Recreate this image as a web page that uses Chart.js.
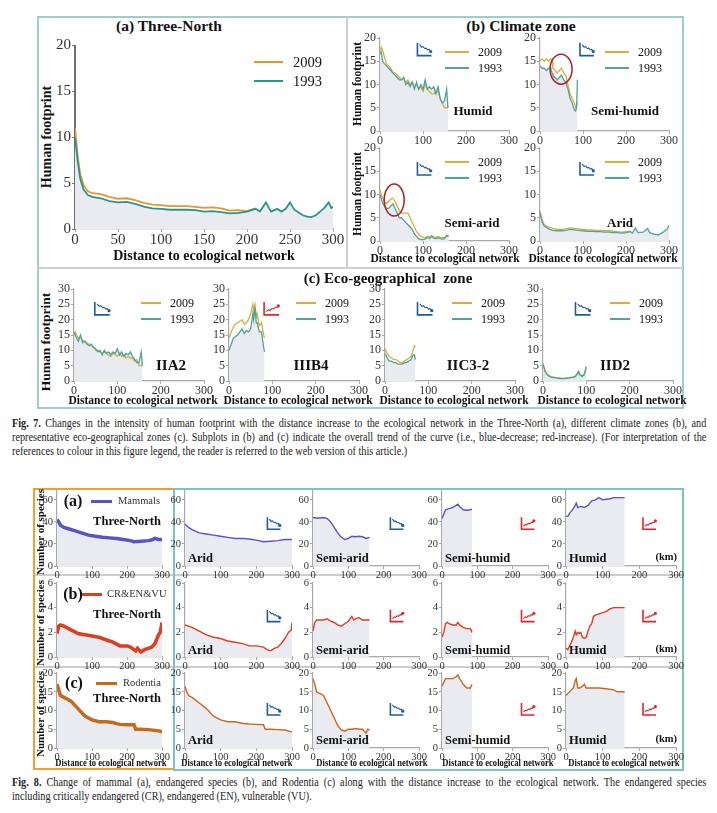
<!DOCTYPE html>
<html>
<head>
<meta charset="utf-8">
<script src="https://cdn.jsdelivr.net/npm/chart.js@4.4.0/dist/chart.umd.min.js"></script>
<style>
  body { margin: 0; background: #fff; width: 717px; height: 813px; position: relative; overflow: hidden; }
  canvas { position: absolute; }
  .cap { position: absolute; left: 12px; width: 789px; font-family: 'Liberation Serif', serif; font-size: 11.6px; line-height: 1; color: #222; white-space: nowrap; transform: scaleX(0.88); transform-origin: 0 0; }
  .just { text-align: justify; text-align-last: justify; }
</style>
</head>
<body>
<script>
// ---------- Fig. 7 data: human footprint vs distance (km) ----------
const d_tn93 = [0, 3, 6, 10, 15, 20, 30, 40, 50, 60, 70, 80, 90, 100, 110, 120, 130, 140, 150, 160, 170, 180, 190, 200, 210, 215, 222, 228, 235, 240, 245, 250, 255, 260, 265, 270, 275, 280, 285, 290, 295, 298, 300];
const hf93_tn = [10.0, 7.5, 5.5, 4.3, 3.7, 3.5, 3.35, 3.05, 2.9, 2.95, 2.75, 2.45, 2.25, 2.2, 2.1, 2.1, 2.1, 2.05, 1.9, 1.95, 1.85, 1.7, 1.75, 1.9, 2.2, 1.9, 2.9, 1.9, 2.2, 1.9, 2.2, 2.9, 2.1, 1.8, 1.5, 1.35, 1.3, 1.5, 1.9, 2.3, 2.9, 2.3, 2.4];
const d_tn09 = [0, 3, 6, 10, 15, 20, 30, 40, 50, 60, 70, 80, 90, 100, 110, 120, 130, 140, 150, 160, 170, 180, 190, 200, 210];
const hf09_tn = [11.0, 8.0, 6.0, 4.8, 4.1, 3.9, 3.8, 3.5, 3.3, 3.35, 3.15, 2.85, 2.65, 2.6, 2.5, 2.5, 2.5, 2.4, 2.3, 2.35, 2.25, 2.0, 2.05, 1.95, 2.25];

const d_hum = [0, 3, 6, 10, 15, 20, 25, 30, 35, 40, 45, 50, 55, 60, 65, 70, 75, 80, 85, 90, 95, 100, 105, 110, 115, 120, 125, 130, 135, 140, 145, 150, 155, 158];
const hf09_hum = [17, 18, 17.5, 16, 14.5, 14, 13.5, 12.5, 12.5, 12, 11.5, 11, 11.5, 10.5, 11, 10, 10.5, 9.5, 10, 9, 9.5, 8.5, 10, 9, 8.5, 8, 8, 8.5, 8.5, 7, 6, 5, 5, 5];
const hf93_hum = [16.5, 17, 15, 14.5, 14, 13.5, 13, 12.5, 12, 11.5, 11, 11, 11.5, 10, 10.5, 9.5, 10.5, 9, 10.5, 9, 10, 9, 11, 9, 9.5, 9, 9.5, 8, 9.5, 7, 6, 6.5, 9, 5];

const d_shum = [0, 5, 10, 15, 20, 25, 28, 30, 35, 40, 45, 50, 55, 60, 65, 70, 75, 80, 83, 85, 87];
const hf09_shum = [15, 15.5, 15, 15.5, 15, 15.5, 15, 13.5, 13, 12.5, 13, 13.5, 12.5, 12, 10, 8, 7, 6, 5, 5.5, 6];
const hf93_shum = [14, 13.5, 13.5, 13, 13.5, 13.5, 12.5, 12, 11.5, 11, 11.5, 12, 11, 10.5, 9, 7, 6, 4.5, 4.3, 5, 11];

const d_sarid = [0, 5, 10, 15, 20, 25, 30, 35, 40, 45, 50, 55, 60, 65, 70, 75, 80, 85, 90, 95, 100, 105, 110, 115, 120, 125, 130, 135, 140, 145, 150, 155, 160];
const hf09_sarid = [11, 9.5, 8.5, 8, 8.5, 9, 9.2, 8.5, 7.5, 6.5, 6, 6, 6, 6, 5, 4, 3, 2, 1.5, 1, 0.8, 0.7, 1, 0.8, 1.2, 0.9, 0.8, 1, 0.8, 0.7, 0.8, 1, 1];
const hf93_sarid = [10, 8.5, 7.5, 7, 7, 7.5, 8, 7, 6, 5, 5, 4.5, 4, 3.5, 3, 2.5, 1.5, 1, 0.5, 0.3, 0.3, 0.4, 0.8, 0.5, 1, 0.6, 0.5, 0.7, 0.5, 0.4, 0.5, 1.2, 1];

const d_arid09 = [0, 5, 10, 20, 30, 40, 50, 60, 70, 80, 90, 100, 110, 120, 130, 140, 150, 160, 170, 180, 190, 200, 210];
const hf09_arid = [6.5, 4.5, 3.5, 3, 2.7, 2.5, 2.5, 2.6, 2.8, 2.7, 2.6, 2.5, 2.4, 2.4, 2.3, 2.3, 2.2, 2.2, 2.1, 2.0, 1.9, 2.0, 2.1];
const d_arid93 = [0, 5, 10, 20, 30, 40, 50, 60, 70, 80, 90, 100, 110, 120, 130, 140, 150, 160, 170, 180, 190, 200, 210, 215, 222, 228, 240, 250, 255, 265, 275, 285, 295, 300];
const hf93_arid = [6, 4, 3.2, 2.6, 2.3, 2.2, 2.2, 2.3, 2.5, 2.4, 2.3, 2.2, 2.1, 2.1, 2.0, 2.0, 1.9, 1.9, 1.8, 1.8, 1.7, 1.8, 2.0, 1.7, 2.8, 1.8, 1.9, 2.7, 1.8, 1.5, 1.3, 1.8, 2.5, 3.3];

const d_iia2 = [0, 3, 6, 10, 15, 20, 25, 30, 35, 40, 45, 50, 55, 60, 65, 70, 75, 80, 85, 90, 95, 100, 105, 110, 115, 120, 125, 130, 135, 140, 145, 150, 155, 158];
const hf09_iia2 = [15, 16, 15, 14, 14.5, 13, 13, 12.5, 12, 11.5, 11, 10, 10, 9.5, 9, 9.5, 9, 8.5, 8, 9, 8.5, 8, 9, 8, 8.5, 7.5, 8, 7.5, 7.5, 6.5, 7, 5, 5, 5];
const hf93_iia2 = [16, 15, 14, 13, 15, 12.5, 13, 12, 11.5, 12, 11, 10.5, 9.5, 10, 8.5, 10, 9, 9.5, 8.5, 9.5, 9, 10.5, 8.5, 9.5, 8, 9, 8.5, 9.5, 8, 7, 6, 6, 9.5, 5];

const d_iiib4 = [0, 5, 10, 15, 20, 25, 30, 35, 40, 45, 50, 55, 57, 60, 63, 65, 70, 75, 80, 82];
const hf09_iiib4 = [14, 16, 17.5, 18.5, 19, 19.5, 20, 18.5, 19, 20, 22, 25, 23, 25, 21, 22, 18, 19, 15, 14];
const hf93_iiib4 = [10, 12, 14, 14.5, 15, 16, 17, 15.5, 16.5, 16, 17, 22, 20, 24, 19, 19, 16, 16, 11, 9.5];

const d_iic32 = [0, 5, 10, 15, 20, 25, 30, 35, 40, 45, 50, 55, 60, 65, 68, 70];
const hf09_iic32 = [10.5, 9, 8, 7.5, 7, 7, 6.5, 6, 6, 6.5, 7, 7.5, 8, 10, 11.5, 11];
const hf93_iic32 = [9, 7.5, 6.5, 6.5, 6, 6, 5.5, 5.5, 5.5, 6, 6, 6.5, 7, 8.5, 8.5, 7];

const d_iid2 = [0, 5, 10, 15, 20, 30, 40, 50, 60, 70, 75, 80, 82, 85, 90, 95, 100];
const hf09_iid2 = [5.8, 3.2, 2.2, 1.7, 1.4, 1.1, 0.9, 0.9, 1.1, 1.3, 1.7, 2.7, 3.2, 2.2, 1.7, 2.2, 4.8];
const hf93_iid2 = [5.5, 3, 2, 1.5, 1.2, 1, 0.8, 0.8, 1, 1.2, 1.5, 2.5, 3, 2, 1.5, 2, 4.5];

// ---------- Fig. 8 data: number of species vs distance (km) ----------
const d_mam_tn = [0, 5, 10, 20, 30, 50, 70, 90, 110, 130, 150, 170, 190, 210, 220, 240, 260, 270, 280, 290, 300];
const mam_tn = [42, 40, 37, 35, 34, 32, 30, 28, 27, 26, 25.5, 25, 24, 23, 22, 22.5, 23, 23.5, 25, 24, 24];
const d_mam_arid = [0, 10, 20, 40, 60, 80, 100, 120, 140, 160, 180, 200, 220, 240, 260, 280, 300];
const mam_arid = [38, 35, 33, 30, 29, 28, 27, 26, 25, 25, 24.5, 23.5, 22, 22.5, 23, 24, 24];
const d_mam_sarid = [0, 10, 20, 30, 40, 50, 60, 70, 80, 90, 100, 110, 120, 130, 140, 150, 160];
const mam_sarid = [44, 43.5, 43.5, 44, 43, 40, 35, 30, 26, 24, 25, 27, 26.5, 27, 26.5, 25, 26];
const d_mam_shum = [0, 5, 10, 20, 30, 40, 45, 50, 60, 70, 80, 85];
const mam_shum = [43, 47, 51, 52, 53, 55, 56, 54, 51, 50.5, 51, 51.5];
const d_mam_hum = [0, 5, 10, 15, 20, 25, 28, 32, 40, 50, 60, 70, 80, 90, 100, 110, 120, 130, 140, 150, 160];
const mam_hum = [45, 45, 48, 50, 52, 55, 57, 53, 54, 53, 55, 59, 60, 62, 60, 60.5, 61, 62, 62, 62, 62];

const d_cr_tn = [0, 5, 10, 20, 40, 60, 80, 100, 120, 140, 160, 180, 200, 210, 220, 225, 230, 240, 250, 260, 270, 280, 290, 295, 300];
const cr_tn = [1.9, 2.5, 2.6, 2.5, 2.2, 1.9, 1.8, 1.7, 1.6, 1.4, 1.2, 0.9, 0.9, 0.8, 0.6, 0.5, 0.7, 0.4, 0.6, 0.7, 0.8, 1.1, 1.8, 2.0, 2.8];
const d_cr_arid = [0, 20, 40, 60, 80, 100, 120, 140, 160, 180, 200, 220, 230, 240, 250, 260, 270, 280, 290, 298, 300];
const cr_arid = [2.6, 2.4, 2.1, 1.8, 1.6, 1.5, 1.3, 1.2, 1.1, 0.9, 0.9, 0.8, 0.6, 0.5, 0.7, 0.8, 1.1, 1.5, 2.0, 2.2, 2.8];
const d_cr_sarid = [0, 5, 10, 20, 30, 40, 50, 60, 70, 80, 90, 100, 110, 115, 120, 130, 140, 150, 160];
const cr_sarid = [2.1, 2.8, 3.0, 3.0, 3.0, 3.1, 2.9, 2.8, 2.6, 2.5, 2.7, 2.9, 3.3, 3.0, 3.1, 3.2, 3.0, 3.0, 3.0];
const d_cr_shum = [0, 5, 10, 15, 20, 30, 40, 45, 50, 60, 70, 80, 85];
const cr_shum = [1.6, 2.0, 2.7, 2.8, 2.7, 2.6, 2.6, 2.8, 2.6, 2.4, 2.3, 2.3, 2.0];
const d_cr_hum = [0, 5, 10, 15, 20, 25, 28, 32, 36, 40, 45, 50, 55, 60, 65, 70, 75, 80, 90, 100, 110, 120, 130, 140, 160];
const cr_hum = [0.7, 0.6, 0.9, 1.2, 1.6, 2.1, 1.8, 2.0, 1.9, 2.0, 1.6, 1.5, 1.6, 2.1, 2.5, 2.7, 3.3, 3.4, 3.5, 3.6, 3.7, 3.9, 4.0, 4.0, 4.0];

const d_rod_tn = [0, 5, 10, 20, 30, 40, 50, 60, 70, 80, 90, 100, 120, 140, 160, 170, 180, 200, 220, 225, 240, 260, 280, 295, 300];
const rod_tn = [17, 15.5, 14, 13.5, 13, 12.5, 11.5, 10.5, 9.5, 8.5, 8, 7.5, 7, 7, 6.8, 6.5, 6.3, 6.2, 6.2, 5, 5, 4.9, 4.7, 4.5, 4.2];
const d_rod_arid = [0, 5, 10, 20, 40, 60, 80, 100, 120, 140, 160, 180, 200, 220, 225, 240, 260, 280, 300];
const rod_arid = [16.5, 15, 14, 13.5, 12, 10.5, 8.5, 7.5, 7, 7, 6.6, 6.4, 6.3, 6.2, 5, 5, 4.9, 4.8, 4.3];
const d_rod_sarid = [0, 5, 10, 20, 30, 40, 50, 60, 70, 80, 90, 100, 110, 120, 130, 140, 150, 155, 160];
const rod_sarid = [18.5, 17, 15, 14.5, 14, 12, 10, 8, 6, 4.8, 4.5, 5, 5, 5.2, 5, 5, 4, 5, 4.8];
const d_rod_shum = [0, 5, 10, 20, 30, 40, 45, 50, 60, 70, 80, 85];
const rod_shum = [16.5, 17.5, 18.5, 18.5, 18.5, 19, 19.5, 18.5, 17, 16, 16, 17];
const d_rod_hum = [0, 5, 10, 15, 20, 25, 28, 32, 38, 45, 50, 55, 70, 90, 110, 130, 140, 160];
const rod_hum = [14, 14.5, 15, 15.5, 16, 18, 18.5, 16, 16, 16.5, 17, 16, 16, 16, 15.8, 15.5, 15, 15];

const years = ['2009', '1993'];
const zones7 = ['Humid', 'Semi-humid', 'Semi-arid', 'Arid'];
const zonesEco = ['IIA2', 'IIIB4', 'IIC3-2', 'IID2'];
const zones8 = ['Arid', 'Semi-arid', 'Semi-humid', 'Humid'];
const groups8 = ['Mammals', 'CR&EN&VU', 'Rodentia'];

// ---------- helpers ----------
const SERIF = "'Liberation Serif', 'Times New Roman', serif";
const FILL = '#E9EBF0';
const C09a = '#E8952B', C93a = '#2B958A';
const C09 = '#D6AD3E', C93 = '#4FA39C';
const C_MAM = '#5A52C6', C_CR = '#DC3F20', C_ROD = '#C46A1E';

function addText(str, x, y, size, opt = {}) {
  const el = document.createElement('div');
  el.textContent = str;
  const a = opt.anchor || 'c';
  const tx = a === 'l' ? '0' : a === 'r' ? '-100%' : '-50%';
  const origin = a === 'l' ? 'left center' : a === 'r' ? 'right center' : 'center';
  el.style.cssText = `position:absolute;left:${x}px;top:${y}px;white-space:pre;line-height:1;` +
    `font-family:${SERIF};font-size:${size}px;font-weight:${opt.bold ? 'bold' : 'normal'};color:${opt.color || '#111'};` +
    `transform-origin:${origin};` +
    `transform:translate(${tx},-50%)${opt.rot ? ' rotate(-90deg)' : ''}${opt.sx ? ` scaleX(${opt.sx})` : ''};`;
  document.body.appendChild(el);
}

function addRect(x, y, w, h, css) {
  const el = document.createElement('div');
  el.style.cssText = `position:absolute;left:${x}px;top:${y}px;width:${w}px;height:${h}px;box-sizing:border-box;${css}`;
  document.body.appendChild(el);
}

function legLine(x1, x2, y, color, w) {
  addRect(x1, y - w / 2, x2 - x1, w, `background:${color}`);
}

function drawIcon(ctx, x, y, up, w, h) {
  const col = up ? '#E0262C' : '#1F5C9A';
  ctx.save();
  ctx.strokeStyle = col; ctx.fillStyle = col; ctx.lineWidth = 1.6;
  ctx.beginPath(); ctx.moveTo(x, y); ctx.lineTo(x, y + h); ctx.lineTo(x + w, y + h); ctx.stroke();
  const pts = up
    ? [[0.15, 0.75], [0.3, 0.6], [0.4, 0.66], [0.52, 0.5], [0.62, 0.56], [0.74, 0.42], [0.84, 0.45], [0.95, 0.3]]
    : [[0.15, 0.15], [0.3, 0.35], [0.4, 0.3], [0.52, 0.45], [0.62, 0.42], [0.74, 0.55], [0.84, 0.52], [0.95, 0.68]];
  ctx.lineWidth = 1.1;
  ctx.beginPath();
  pts.forEach(([px, py], i) => i ? ctx.lineTo(x + px * w, y + py * h) : ctx.moveTo(x + px * w, y + py * h));
  ctx.stroke();
  const last = pts[pts.length - 1];
  ctx.beginPath(); ctx.arc(x + last[0] * w, y + last[1] * h, 1.6, 0, Math.PI * 2); ctx.fill();
  ctx.restore();
}

const decor = {
  id: 'decor',
  afterDatasetsDraw(chart, args, o) {
    const { ctx, chartArea: a, scales } = chart;
    if (o.icon) drawIcon(ctx, a.left + o.icon.fx * a.width, a.top + o.icon.fy * a.height, o.icon.up, o.icon.w || 14, o.icon.h || 12);
    if (o.ring) {
      ctx.save();
      ctx.strokeStyle = '#B31E24'; ctx.lineWidth = 1.5;
      ctx.beginPath();
      ctx.ellipse(scales.x.getPixelForValue(o.ring.x), scales.y.getPixelForValue(o.ring.y), o.ring.rx, o.ring.ry, 0, 0, Math.PI * 2);
      ctx.stroke();
      ctx.restore();
    }
  }
};

function plot(p) {
  const pt = 8, pr = 14;
  const w = p.yW + (p.x1 - p.x0) + pr;
  const h = pt + (p.yBot - p.yTop) + p.xH;
  const cv = document.createElement('canvas');
  cv.width = w; cv.height = h;
  cv.style.left = (p.x0 - p.yW) + 'px';
  cv.style.top = (p.yTop - pt) + 'px';
  cv.style.width = w + 'px'; cv.style.height = h + 'px';
  document.body.appendChild(cv);

  const datasets = p.series.map(s => ({
    data: s.d.map((d, i) => ({ x: d, y: s.v[i] })),
    borderColor: s.color,
    borderWidth: s.w || 1.3,
    pointRadius: 0,
    tension: 0,
    fill: s.fill ? 'origin' : false,
    backgroundColor: p.fillColor || FILL
  }));
  const font = { family: SERIF, size: p.fs, lineHeight: 1 };
  const axisCol = p.axisCol || '#A8A8A8';

  new Chart(cv, {
    type: 'line',
    data: { datasets },
    options: {
      responsive: false,
      animation: false,
      events: [],
      layout: { padding: { top: pt, right: pr, left: 0, bottom: 0 } },
      plugins: {
        legend: { display: false },
        tooltip: { enabled: false },
        filler: { drawTime: 'beforeDatasetsDraw' },
        decor: { icon: p.icon, ring: p.ring }
      },
      scales: {
        x: {
          type: 'linear', min: 0, max: 300,
          ticks: { stepSize: p.xStep || 100, font, color: '#333', padding: 1, maxRotation: 0, autoSkip: false },
          grid: { drawOnChartArea: false, tickLength: 3, color: axisCol },
          border: { color: axisCol, width: 1.2 },
          afterFit: s => { s.height = p.xH; }
        },
        y: {
          min: 0, max: p.yMax,
          ticks: { stepSize: p.yStep, font, color: '#333', padding: 1 },
          grid: { drawOnChartArea: false, tickLength: 3, color: p.yAxisCol || axisCol },
          border: { color: p.yAxisCol || axisCol, width: p.yAxisW || 1.2 },
          afterBuildTicks: s => { if (p.yTicks) s.ticks = p.yTicks.map(v => ({ value: v })); },
          afterFit: s => { s.width = p.yW; }
        }
      }
    },
    plugins: [decor]
  });
}

// ================= Fig. 7 =================
addRect(37, 16, 647, 393, 'border:2px solid #9DCFC8');
addRect(346, 17, 2, 251, 'background:#CFCFCF');
addRect(38, 267, 645, 2, 'background:#CFCFCF');

// (a) Three-North
plot({ x0: 75, x1: 333, yTop: 45, yBot: 229, yMax: 20, yStep: 5, xStep: 50, fs: 15, yW: 21, xH: 20,
  yAxisCol: '#707070', yAxisW: 2,
  series: [
    { d: d_tn93, v: hf93_tn, color: C93a, w: 1.8, fill: true },
    { d: d_tn09, v: hf09_tn, color: C09a, w: 1.8 }
  ] });
addText('(a) Three-North', 169, 26, 15.5, { bold: true });
addText('Human footprint', 47, 137, 14, { bold: true, rot: true });
addText('Distance to ecological network', 204, 256, 14, { bold: true });
legLine(254, 283, 62, C09a, 2); addText(years[0], 293, 62, 14.5, { anchor: 'l' });
legLine(254, 283, 81, C93a, 2); addText(years[1], 293, 81, 14.5, { anchor: 'l' });

// (b) Climate zone
addText('(b) Climate zone', 521, 26, 15.5, { bold: true });
const climate = [
  { x0: 380, x1: 509, yTop: 38, yBot: 131, s93: [d_hum, hf93_hum], s09: [d_hum, hf09_hum], lab: [473, 110], fx: 0.29, fy: 0.05 },
  { x0: 540, x1: 669, yTop: 38, yBot: 131, s93: [d_shum, hf93_shum], s09: [d_shum, hf09_shum], lab: [625, 110], fx: 0.31, fy: 0.05,
    ring: { x: 49, y: 13.3, rx: 11, ry: 15 } },
  { x0: 380, x1: 509, yTop: 148, yBot: 241, s93: [d_sarid, hf93_sarid], s09: [d_sarid, hf09_sarid], lab: [472, 222], fx: 0.29, fy: 0.15,
    ring: { x: 33, y: 8.8, rx: 10, ry: 16 } },
  { x0: 540, x1: 669, yTop: 148, yBot: 241, s93: [d_arid93, hf93_arid], s09: [d_arid09, hf09_arid], lab: [620, 222], fx: 0.31, fy: 0.15 }
];
climate.forEach((c, i) => {
  plot({ x0: c.x0, x1: c.x1, yTop: c.yTop, yBot: c.yBot, yMax: 20, yStep: 5, fs: 12, yW: 18, xH: 16,
    icon: { fx: c.fx, fy: c.fy, up: false, w: 14, h: 13 }, ring: c.ring,
    series: [
      { d: c.s93[0], v: c.s93[1], color: C93, fill: true },
      { d: c.s09[0], v: c.s09[1], color: C09 }
    ] });
  addText(zones7[i], c.lab[0], c.lab[1], 13, { bold: true });
  const ly = c.yTop + 14;
  legLine(c.x0 + 65, c.x0 + 89, ly, C09, 1.6); addText(years[0], c.x0 + 98, ly, 12, { anchor: 'l' });
  legLine(c.x0 + 65, c.x0 + 89, ly + 16, C93, 1.6); addText(years[1], c.x0 + 98, ly + 16, 12, { anchor: 'l' });
});
addText('Human footprint', 358, 84, 11.5, { bold: true, rot: true });
addText('Human footprint', 358, 194, 11.5, { bold: true, rot: true });
addText('Distance to ecological network', 445, 259, 11.5, { bold: true });
addText('Distance to ecological network', 603, 259, 11.5, { bold: true });

// (c) Eco-geographical zone
addText('(c) Eco-geographical  zone', 388, 278, 15, { bold: true });
const eco = [
  { x0: 74, s93: [d_iia2, hf93_iia2], s09: [d_iia2, hf09_iia2], lab: 171, fx: 0.16, up: false },
  { x0: 229, s93: [d_iiib4, hf93_iiib4], s09: [d_iiib4, hf09_iiib4], lab: 311, fx: 0.27, up: true },
  { x0: 385, s93: [d_iic32, hf93_iic32], s09: [d_iic32, hf09_iic32], lab: 468, fx: 0.25, up: false },
  { x0: 543, s93: [d_iid2, hf93_iid2], s09: [d_iid2, hf09_iid2], lab: 615, fx: 0.25, up: false }
];
eco.forEach((c, i) => {
  plot({ x0: c.x0, x1: c.x0 + 130, yTop: 289, yBot: 381, yMax: 30, yStep: 5, fs: 12, yW: 18, xH: 16,
    icon: { fx: c.fx, fy: 0.14, up: c.up, w: 15, h: 13 },
    fillColor: i === 3 ? '#DDEEEE' : FILL,
    series: [
      { d: c.s93[0], v: c.s93[1], color: C93, fill: true },
      { d: c.s09[0], v: c.s09[1], color: C09 }
    ] });
  addText(zonesEco[i], c.lab, 365, 15, { bold: true });
  legLine(c.x0 + 67, c.x0 + 87, 303, C09, 1.6); addText(years[0], c.x0 + 96, 303, 12, { anchor: 'l' });
  legLine(c.x0 + 67, c.x0 + 87, 319, C93, 1.6); addText(years[1], c.x0 + 96, 319, 12, { anchor: 'l' });
  addText('Distance to ecological network', c.x0 + 69, 401, 11.5, { bold: true });
});
addText('Human footprint', 46, 342, 13.5, { bold: true, rot: true });

// ================= Fig. 8 =================
addRect(33, 488, 142, 282, 'border:2px solid #F0A030');
addRect(173, 488, 511, 283, 'border:2px solid #7DC4BC');
addRect(35, 574, 138, 2, 'background:#CCCCCC');
addRect(175, 574, 507, 2, 'background:#CCCCCC');
addRect(35, 666, 138, 2, 'background:#CCCCCC');
addRect(175, 666, 507, 2, 'background:#CCCCCC');

const cols8 = [{ x0: 57, x1: 162 }, { x0: 185, x1: 292 }, { x0: 313, x1: 419 }, { x0: 442, x1: 548 }, { x0: 566, x1: 676 }];
const rows8 = [
  { yTop: 491, yBot: 566, yMax: 68, yTicks: [0, 20, 40, 60], color: C_MAM, labY: 558, fy: 0.35,
    sets: [[d_mam_tn, mam_tn], [d_mam_arid, mam_arid], [d_mam_sarid, mam_sarid], [d_mam_shum, mam_shum], [d_mam_hum, mam_hum]],
    up: [false, false, true, true] },
  { yTop: 583, yBot: 657, yMax: 6, yTicks: [0, 2, 4, 6], color: C_CR, labY: 650, fy: 0.36,
    sets: [[d_cr_tn, cr_tn], [d_cr_arid, cr_arid], [d_cr_sarid, cr_sarid], [d_cr_shum, cr_shum], [d_cr_hum, cr_hum]],
    up: [false, true, true, true] },
  { yTop: 673, yBot: 748, yMax: 20, yTicks: [0, 5, 10, 15, 20], color: C_ROD, labY: 740, fy: 0.4,
    sets: [[d_rod_tn, rod_tn], [d_rod_arid, rod_arid], [d_rod_sarid, rod_sarid], [d_rod_shum, rod_shum], [d_rod_hum, rod_hum]],
    up: [false, false, true, true] }
];
const iconFx = [0.77, 0.73, 0.75, 0.70];

rows8.forEach((r, ri) => {
  r.sets.forEach((s, ci) => {
    const c = cols8[ci];
    plot({ x0: c.x0, x1: c.x1, yTop: r.yTop, yBot: r.yBot, yMax: r.yMax, yTicks: r.yTicks, fs: 10.5, yW: 14, xH: 13,
      icon: ci > 0 ? { fx: iconFx[ci - 1], fy: r.fy, up: r.up[ci - 1], w: 13, h: 12 } : null,
      series: [{ d: s[0], v: s[1], color: r.color, w: ci === 0 ? 3.5 : 1.4, fill: true }] });
    if (ci > 0) addText(zones8[ci - 1], c.x0 + 3, r.labY, 12.5, { bold: true, anchor: 'l' });
  });
  addText('(km)', 677, r.labY - 1, 10.5, { bold: true, anchor: 'r' });
  addText('Number of species', 40, (r.yTop + r.yBot) / 2 + 3, 11, { bold: true, rot: true });
});
addText('Three-North', 127, 521, 12.5, { bold: true });
addText('Three-North', 127, 614, 12.5, { bold: true });
addText('Three-North', 127, 698, 12.5, { bold: true });
addText('(a)', 73, 501, 16, { bold: true });
addText('(b)', 73, 594, 16, { bold: true });
addText('(c)', 74, 683, 16, { bold: true });
legLine(91, 112, 501, C_MAM, 3); addText(groups8[0], 118, 501, 10.5, { anchor: 'l', color: '#333' });
legLine(82, 102, 594, C_CR, 3); addText(groups8[1], 107, 594, 10.5, { anchor: 'l', color: '#333' });
legLine(96, 117, 683, C_ROD, 3); addText(groups8[2], 123, 683, 10.5, { anchor: 'l', color: '#333' });
[111, 237, 372, 498, 624].forEach(x => addText('Distance to ecological network', x, 762, 11, { bold: true, sx: 0.78 }));

// ================= captions =================
function capLine(parts, y, just) {
  const el = document.createElement('div');
  el.className = 'cap' + (just ? ' just' : '');
  el.style.top = y + 'px';
  parts.forEach(([t, b]) => {
    const s = document.createElement('span');
    s.textContent = t;
    if (b) s.style.fontWeight = 'bold';
    el.appendChild(s);
  });
  document.body.appendChild(el);
}
capLine([['Fig. 7.', true], [' Changes in the intensity of human footprint with the distance increase to the ecological network in the Three-North (a), different climate zones (b), and', false]], 418, true);
capLine([['representative eco-geographical zones (c). Subplots in (b) and (c) indicate the overall trend of the curve (i.e., blue-decrease; red-increase). (For interpretation of the', false]], 432, true);
capLine([['references to colour in this figure legend, the reader is referred to the web version of this article.)', false]], 446, false);
capLine([['Fig. 8.', true], [' Change of mammal (a), endangered species (b), and Rodentia (c) along with the distance increase to the ecological network. The endangered species', false]], 777, true);
capLine([['including critically endangered (CR), endangered (EN), vulnerable (VU).', false]], 791, false);
</script>
</body>
</html>
